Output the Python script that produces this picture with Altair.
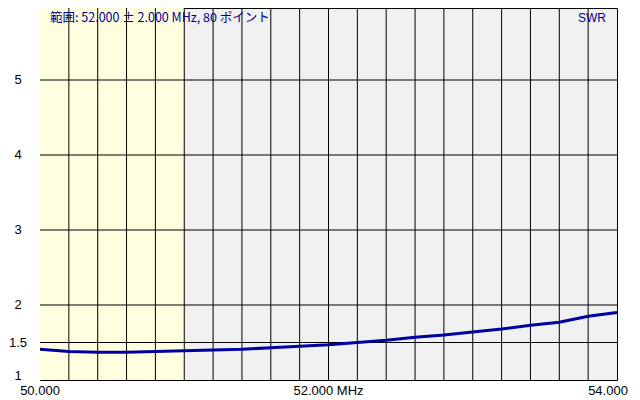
import altair as alt
import pandas as pd

# ---- data ----
freq = [50.0, 50.2, 50.4, 50.6, 50.8, 51.0, 51.2, 51.4, 51.6, 51.8, 52.0,
        52.2, 52.4, 52.6, 52.8, 53.0, 53.2, 53.4, 53.6, 53.8, 54.0]
swr = [1.41, 1.38, 1.37, 1.37, 1.38, 1.39, 1.40, 1.41, 1.43, 1.45, 1.47,
       1.50, 1.53, 1.57, 1.60, 1.64, 1.68, 1.73, 1.77, 1.85, 1.90]

grid_x = [50.2, 50.4, 50.6, 50.8, 51.0, 51.2, 51.4, 51.6, 51.8, 52.0,
          52.2, 52.4, 52.6, 52.8, 53.0, 53.2, 53.4, 53.6, 53.8]
grid_y = [1.5, 2, 3, 4, 5]

y_tick_values = [1.5, 2, 3, 4, 5]
y_tick_labels = ["1.5", "2", "3", "4", "5"]
y_base_value = [1]
y_base_label = ["1"]

x_tick_values = [50, 52]
x_tick_labels = ["50.000", "52.000 MHz"]
x_end_value = [54]
x_end_label = ["54.000"]

band_start = [50.0]
band_end = [51.0]

header = "範囲: 52.000 ± 2.000 MHz, 80 ポイント"
series_name = "SWR"

# ---- tables ----
line_df = pd.DataFrame({"f": freq, "swr": swr})
gx_df = pd.DataFrame({"f": grid_x})
gy_df = pd.DataFrame({"v": grid_y})
band_df = pd.DataFrame({"start": band_start, "end": band_end})
ylab_df = pd.DataFrame({"v": y_tick_values, "t": y_tick_labels})
ybase_df = pd.DataFrame({"v": y_base_value, "t": y_base_label})
xlab_df = pd.DataFrame({"f": x_tick_values, "t": x_tick_labels})
xend_df = pd.DataFrame({"f": x_end_value, "t": x_end_label})

xs = alt.Scale(domain=[50, 54], nice=False, zero=False)
ys = alt.Scale(domain=[1, 5.96], nice=False, zero=False)

H = 372
NAVY = "#000090"
FONT = "Liberation Sans"

band = alt.Chart(band_df).mark_rect(color="#ffffe0").encode(
    x=alt.X("start:Q", scale=xs, axis=None),
    x2="end:Q",
)

vgrid = alt.Chart(gx_df).mark_rule(color="black", strokeWidth=1).encode(
    x=alt.X("f:Q", scale=xs, axis=None)
)
hgrid = alt.Chart(gy_df).mark_rule(color="black", strokeWidth=1).encode(
    y=alt.Y("v:Q", scale=ys, axis=None)
)

line = alt.Chart(line_df).mark_line(color="#0000a0", strokeWidth=3).encode(
    x=alt.X("f:Q", scale=xs, axis=None),
    y=alt.Y("swr:Q", scale=ys, axis=None),
)

ylab = alt.Chart(ylab_df).mark_text(
    font=FONT, fontSize=13, color="black", align="center", baseline="middle"
).encode(x=alt.value(-22), y=alt.Y("v:Q", scale=ys, axis=None), text="t:N")

ybase = alt.Chart(ybase_df).mark_text(
    font=FONT, fontSize=13, color="black", align="center", baseline="alphabetic"
).encode(x=alt.value(-22), y=alt.Y("v:Q", scale=ys, axis=None), text="t:N")

xlab = alt.Chart(xlab_df).mark_text(
    font=FONT, fontSize=13, color="black", align="center", baseline="alphabetic"
).encode(x=alt.X("f:Q", scale=xs, axis=None), y=alt.value(H + 15), text="t:N")

xend = alt.Chart(xend_df).mark_text(
    font=FONT, fontSize=13, color="black", align="center", baseline="alphabetic", dx=-9
).encode(x=alt.X("f:Q", scale=xs, axis=None), y=alt.value(H + 15), text="t:N")

head = alt.Chart(pd.DataFrame({"t": [header]})).mark_text(
    font="Noto Sans CJK JP", fontSize=12.5, color=NAVY, align="left", baseline="middle"
).encode(x=alt.value(10), y=alt.value(10), text="t:N")

swr_lab = alt.Chart(pd.DataFrame({"t": [series_name]})).mark_text(
    font=FONT, fontSize=12, color=NAVY, align="right", baseline="middle"
).encode(x=alt.value(566), y=alt.value(10), text="t:N")

chart = alt.layer(
    band, vgrid, hgrid, line, ylab, ybase, xlab, xend, head, swr_lab
).properties(
    width=577,
    height=H,
    autosize=alt.AutoSizeParams(type="none"),
    padding={"left": 32, "top": 0, "right": 15, "bottom": 20},
    background="white",
).configure_view(
    fill="#f0f0f0", stroke="black", strokeWidth=1
)

chart.save("out.html", embed_options={"renderer": "svg", "actions": False})
